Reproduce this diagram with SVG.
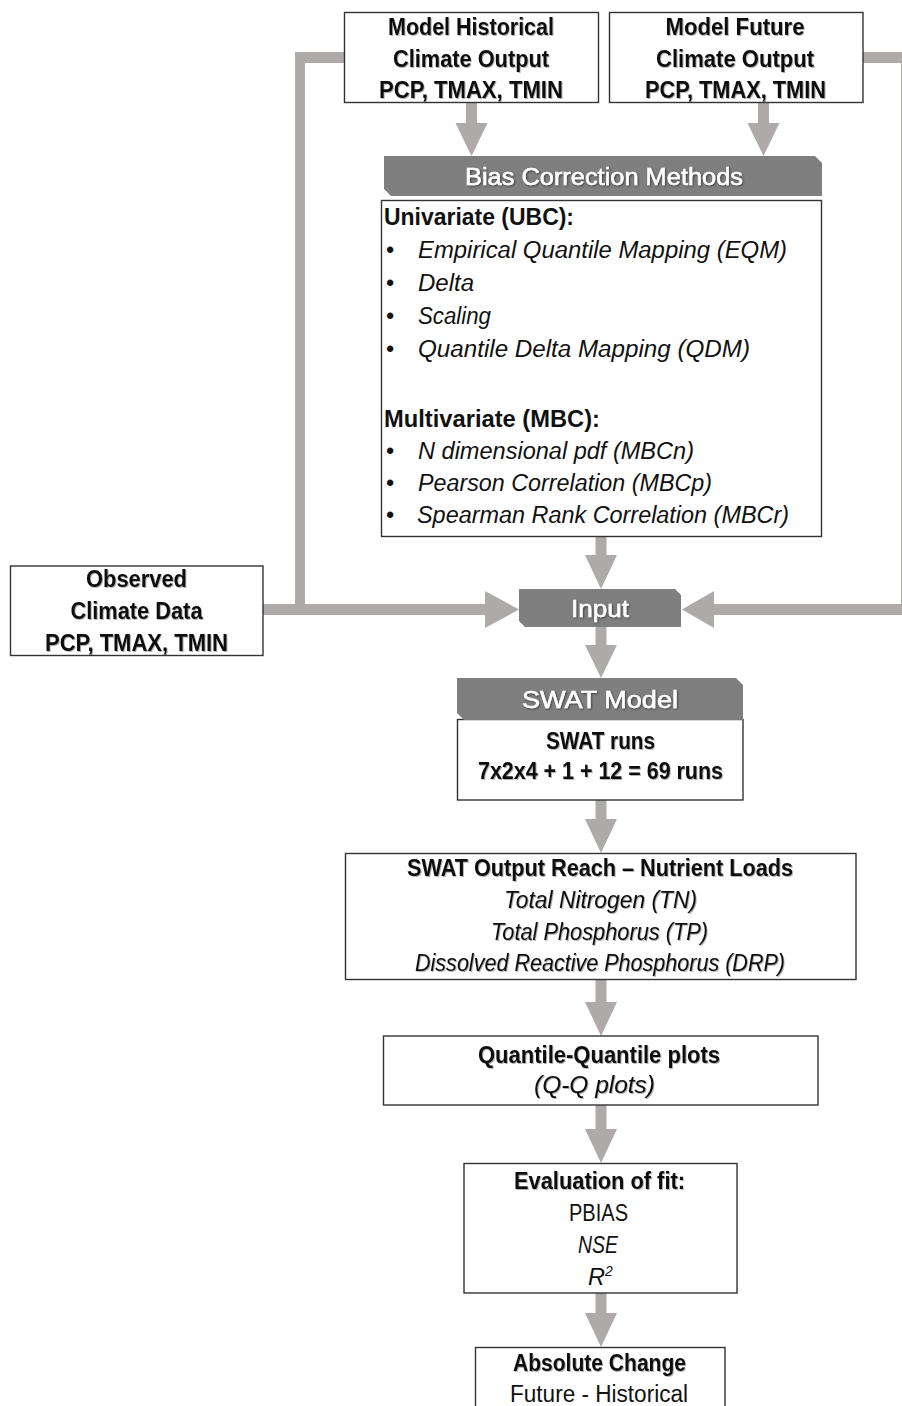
<svg xmlns="http://www.w3.org/2000/svg" width="902" height="1406" viewBox="0 0 902 1406">
<style>
.box{fill:#fff;stroke:#333;stroke-width:1.4}
.hdr{fill:#7f7f7f}
.con{fill:#aeaaaa}
text{font-family:"Liberation Sans",Arial,sans-serif;fill:#111;font-size:23.5px}
.b{font-weight:bold}
.i{font-style:italic}
.c{text-anchor:middle}
.w{fill:#fff;stroke:#fff;stroke-width:0.5}
.sh{filter:url(#sh)}
.shw{filter:url(#shw)}
</style>
<defs>
<filter id="sh" x="-5%" y="-20%" width="110%" height="140%">
<feDropShadow dx="1" dy="1" stdDeviation="0.7" flood-color="#000" flood-opacity="0.3"/>
</filter>
<filter id="shw" x="-5%" y="-20%" width="110%" height="140%">
<feDropShadow dx="1" dy="1" stdDeviation="0.8" flood-color="#000" flood-opacity="0.5"/>
</filter>
</defs>
<rect width="902" height="1406" fill="#fff"/>

<g id="connectors">
<rect class="con" x="295" y="52" width="49" height="11"/>
<rect class="con" x="295" y="52" width="10" height="560"/>
<polygon class="con" points="263,604 485,604 485,591 519,609.5 485,628 485,615 263,615"/>
<rect class="con" x="863" y="52" width="50" height="11"/>
<rect class="con" x="901" y="52" width="11" height="563"/>
<polygon class="con" points="902,604 714,604 714,591 682,609.5 714,628 714,615 902,615"/>
<polygon class="con" points="466,103 477,103 477,123 487.5,123 471.5,156 455.5,123 466,123"/>
<polygon class="con" points="758,103 769,103 769,123 779.5,123 763.5,156 747.5,123 758,123"/>
<polygon class="con" points="595.5,537 606.5,537 606.5,555 617,555 601,589 585,555 595.5,555"/>
<polygon class="con" points="595.5,627 606.5,627 606.5,645 617,645 601,678 585,645 595.5,645"/>
<polygon class="con" points="595.5,800 606.5,800 606.5,819 617,819 601,853 585,819 595.5,819"/>
<polygon class="con" points="595.5,980 606.5,980 606.5,1002 617,1002 601,1036 585,1002 595.5,1002"/>
<polygon class="con" points="595.5,1105 606.5,1105 606.5,1129 617,1129 601,1163 585,1129 595.5,1129"/>
<polygon class="con" points="595.5,1293 606.5,1293 606.5,1313 617,1313 601,1347 585,1313 595.5,1313"/>
</g>

<g id="model-historical">
<rect class="box" x="344.5" y="12.5" width="254" height="90"/>
<text class="b c sh" x="471" y="35" textLength="166" lengthAdjust="spacingAndGlyphs">Model Historical</text>
<text class="b c sh" x="471" y="67" textLength="156" lengthAdjust="spacingAndGlyphs">Climate Output</text>
<text class="b c sh" x="471" y="98" textLength="184" lengthAdjust="spacingAndGlyphs">PCP, TMAX, TMIN</text>
</g>

<g id="model-future">
<rect class="box" x="609.5" y="12.5" width="253.5" height="90"/>
<text class="b c sh" x="735" y="35" textLength="139" lengthAdjust="spacingAndGlyphs">Model Future</text>
<text class="b c sh" x="735" y="67" textLength="158" lengthAdjust="spacingAndGlyphs">Climate Output</text>
<text class="b c sh" x="735.5" y="98" textLength="181" lengthAdjust="spacingAndGlyphs">PCP, TMAX, TMIN</text>
</g>

<g id="observed">
<rect class="box" x="10.5" y="566" width="252.5" height="89.5"/>
<text class="b c sh" x="136.5" y="587" textLength="101" lengthAdjust="spacingAndGlyphs">Observed</text>
<text class="b c sh" x="136.5" y="619" textLength="132" lengthAdjust="spacingAndGlyphs">Climate Data</text>
<text class="b c sh" x="136.5" y="651" textLength="183" lengthAdjust="spacingAndGlyphs">PCP, TMAX, TMIN</text>
</g>

<g id="bias-correction">
<path class="hdr" d="M384,156 L815,156 L822,163 L822,196 L391,196 L384,189 Z"/>
<text class="c w shw" x="604" y="184.5" font-size="27" textLength="278" lengthAdjust="spacingAndGlyphs">Bias Correction Methods</text>
<rect class="box" x="381.5" y="200.5" width="440" height="336"/>
<text class="b" x="384" y="225" textLength="190" lengthAdjust="spacingAndGlyphs">Univariate (UBC):</text>
<text x="386" y="258">•</text>
<text class="i" x="418" y="258" textLength="369" lengthAdjust="spacingAndGlyphs">Empirical Quantile Mapping (EQM)</text>
<text x="386" y="291">•</text>
<text class="i" x="418" y="291" textLength="56" lengthAdjust="spacingAndGlyphs">Delta</text>
<text x="386" y="324">•</text>
<text class="i" x="418" y="324" textLength="73" lengthAdjust="spacingAndGlyphs">Scaling</text>
<text x="386" y="357">•</text>
<text class="i" x="418" y="357" textLength="332" lengthAdjust="spacingAndGlyphs">Quantile Delta Mapping (QDM)</text>
<text class="b" x="384" y="427" textLength="216" lengthAdjust="spacingAndGlyphs">Multivariate (MBC):</text>
<text x="386" y="459">•</text>
<text class="i" x="418" y="459" textLength="276" lengthAdjust="spacingAndGlyphs">N dimensional pdf (MBCn)</text>
<text x="386" y="491">•</text>
<text class="i" x="418" y="491" textLength="294" lengthAdjust="spacingAndGlyphs">Pearson Correlation (MBCp)</text>
<text x="386" y="523">•</text>
<text class="i" x="417" y="523" textLength="372" lengthAdjust="spacingAndGlyphs">Spearman Rank Correlation (MBCr)</text>
</g>

<g id="input">
<path class="hdr" d="M519,589 L675,589 L681,595 L681,627 L525,627 L519,621 Z"/>
<text class="c w shw" x="600" y="617" font-size="26" textLength="58" lengthAdjust="spacingAndGlyphs">Input</text>
</g>

<g id="swat-model">
<rect class="box" x="457.5" y="719.5" width="285.5" height="80.5"/>
<path class="hdr" d="M457,678 L736,678 L743,685 L743,720 L464,720 L457,713 Z"/>
<text class="c w shw" x="600" y="708" font-size="28" textLength="156" lengthAdjust="spacingAndGlyphs">SWAT Model</text>
<text class="b c sh" x="600.5" y="749" textLength="109" lengthAdjust="spacingAndGlyphs">SWAT runs</text>
<text class="b c sh" x="600.5" y="779" textLength="245" lengthAdjust="spacingAndGlyphs">7x2x4 + 1 + 12 = 69 runs</text>
</g>

<g id="swat-output">
<rect class="box" x="345.5" y="853.5" width="510.5" height="126"/>
<text class="b c sh" x="600" y="876" textLength="386" lengthAdjust="spacingAndGlyphs">SWAT Output Reach – Nutrient Loads</text>
<text class="i c sh" x="600.5" y="908" textLength="193" lengthAdjust="spacingAndGlyphs">Total Nitrogen (TN)</text>
<text class="i c sh" x="599.5" y="940" textLength="217" lengthAdjust="spacingAndGlyphs">Total Phosphorus (TP)</text>
<text class="i c sh" x="600" y="971" textLength="370" lengthAdjust="spacingAndGlyphs">Dissolved Reactive Phosphorus (DRP)</text>
</g>

<g id="qq-plots">
<rect class="box" x="383.5" y="1036" width="434.5" height="69"/>
<text class="b c sh" x="599" y="1063" textLength="242" lengthAdjust="spacingAndGlyphs">Quantile-Quantile plots</text>
<text class="i c sh" x="594.5" y="1093" textLength="121" lengthAdjust="spacingAndGlyphs">(Q-Q plots)</text>
</g>

<g id="evaluation">
<rect class="box" x="464" y="1163.5" width="273" height="129.5"/>
<text class="b c sh" x="599.5" y="1189" textLength="171" lengthAdjust="spacingAndGlyphs">Evaluation of fit:</text>
<text class="c" x="598.5" y="1221" textLength="59" lengthAdjust="spacingAndGlyphs">PBIAS</text>
<text class="i c" x="598" y="1253" textLength="40" lengthAdjust="spacingAndGlyphs">NSE</text>
<text class="i" x="588" y="1285">R<tspan font-size="14" dy="-9">2</tspan></text>
</g>

<g id="absolute-change">
<rect class="box" x="475.5" y="1347.5" width="249.5" height="80"/>
<text class="b c sh" x="599.5" y="1371" textLength="173" lengthAdjust="spacingAndGlyphs">Absolute Change</text>
<text class="c" x="599" y="1402" textLength="178" lengthAdjust="spacingAndGlyphs">Future - Historical</text>
</g>
</svg>
